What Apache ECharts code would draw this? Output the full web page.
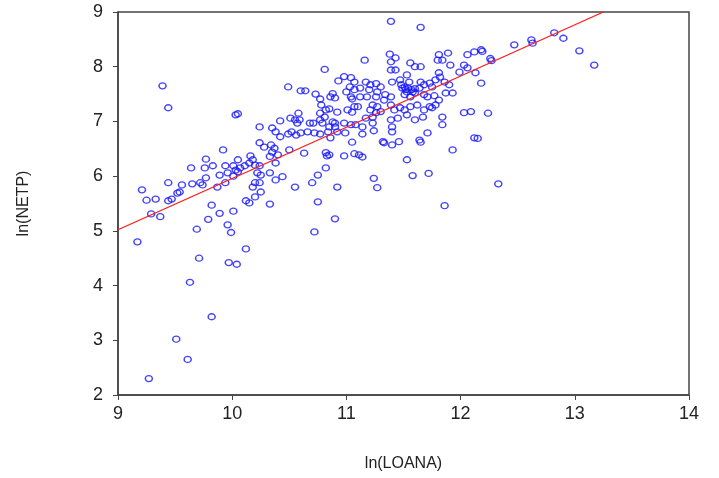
<!DOCTYPE html>
<html>
<head>
<meta charset="utf-8">
<script src="https://cdn.jsdelivr.net/npm/echarts@6/dist/echarts.min.js"></script>
<style>
  html, body { margin: 0; padding: 0; background: #fff; }
  #chart { width: 719px; height: 478px; }
</style>
</head>
<body>
<div id="chart"></div>
<script>
// ln(LOANA) vs ln(NETP)
var lnLoana = [
  9.27, 9.61, 9.51, 9.82, 9.63, 9.71, 9.97, 10.04, 10.12, 9.17,
  9.92, 9.77, 9.76, 9.83, 9.64, 9.94, 10.01, 10.03, 9.89, 9.96, 10.01, 9.77, 9.72, 9.74,
  9.44, 9.65, 9.56, 9.54, 9.52, 9.87, 9.94, 9.21, 9.25, 9.33, 9.44, 9.47, 9.82, 10.01,
  9.29, 9.37, 9.89, 9.79, 9.96, 9.99, 9.69,
  9.39, 9.44, 10.03,
  10.81, 10.49, 10.60, 10.64, 10.98, 10.93, 11.04, 11.03, 11.07, 11.00, 11.07, 11.04, 11.05,
  10.73, 10.77, 10.86, 10.90, 10.88, 10.78, 10.82, 10.85, 10.77, 10.81, 10.92, 11.01, 11.05, 11.07,
  10.58, 10.59, 10.57, 10.51, 10.55, 10.42, 10.35, 10.24, 10.68, 10.71, 10.77, 10.79, 10.88, 10.90,
  10.85, 10.90, 10.98, 11.04, 11.08, 10.05,
  10.38, 10.42, 10.49, 10.52, 10.56, 10.60, 10.66, 10.72, 10.77, 10.84, 10.86, 10.92, 10.99, 11.05,
  10.24, 10.28, 10.34, 10.37, 10.35, 10.40, 10.33, 10.16, 10.18, 10.15, 10.20, 10.11, 10.07,
  10.05, 10.05, 10.24, 10.22, 10.25, 10.38, 10.50, 10.63, 10.82, 10.85, 10.83, 10.98, 11.07,
  10.82, 10.75, 10.70, 10.33, 10.38, 10.44, 10.20, 10.24, 10.18, 10.55, 10.92, 10.25, 10.20,
  10.12, 10.15, 10.33, 10.75, 10.90, 10.72,
  11.39, 11.65, 11.16, 11.38, 11.43, 11.39, 11.56, 11.65, 11.60, 11.39, 11.43, 11.53,
  11.81, 11.89, 11.80, 11.84, 11.91, 12.06, 12.12, 12.03, 11.99, 12.06, 12.13,
  11.81, 11.82, 11.78, 11.86, 11.90, 11.47, 11.48, 11.40, 11.55, 11.65, 11.68, 11.73, 11.64, 11.75,
  11.49, 11.52, 11.54, 11.57, 11.60, 11.53, 11.58, 11.51,
  11.17, 11.21, 11.26, 11.30, 11.20, 11.27, 11.12,
  11.12, 11.18, 11.26, 11.33, 11.39, 11.34,
  11.51, 11.56, 11.60, 11.68, 11.71, 11.77, 11.81, 11.87, 11.93,
  11.10, 11.23, 11.27, 11.21, 11.26, 11.30, 11.23, 11.17,
  11.39, 11.47, 11.42, 11.51, 11.56, 11.62, 11.68, 11.73, 11.78, 11.75,
  11.45, 11.39, 11.67, 11.53, 11.60, 11.84, 12.09, 12.03, 11.23, 11.40, 11.84, 11.14,
  11.14, 11.24, 11.40, 11.71, 12.12, 11.32, 11.33, 11.40, 11.46, 11.64, 11.65, 11.11, 11.14,
  11.93, 11.53, 11.24, 11.58, 11.72, 11.27, 11.86,
  12.82, 12.90, 12.62, 12.63, 12.47, 13.04, 12.18, 12.19, 12.26, 12.27, 13.17, 12.18, 12.24,
  12.15, 12.33
];
var lnNetp = [
  2.30, 2.65, 3.02, 3.43, 4.06, 4.50, 4.42, 4.39, 4.67, 4.80,
  6.48, 6.31, 6.15, 6.19, 6.15, 6.19, 6.19, 6.11, 6.02, 6.06, 6.00, 5.97, 5.88, 5.84,
  5.88, 5.86, 5.84, 5.71, 5.69, 5.80, 5.88, 5.75, 5.56, 5.58, 5.55, 5.58, 5.47, 5.36,
  5.31, 5.26, 5.32, 5.21, 5.11, 4.97, 5.03,
  7.65, 7.25, 7.12,
  7.95, 7.63, 7.56, 7.56, 7.82, 7.74, 7.80, 7.63, 7.72, 7.54, 7.58, 7.45, 7.41,
  7.50, 7.41, 7.45, 7.43, 7.51, 7.30, 7.21, 7.23, 7.15, 7.08, 7.17, 7.21, 7.17, 7.27,
  7.15, 7.03, 6.97, 7.06, 7.03, 7.01, 6.88, 6.90, 6.97, 6.97, 7.03, 6.97, 6.99, 6.97,
  6.90, 6.90, 6.97, 6.94, 6.94, 7.14,
  6.81, 6.72, 6.77, 6.81, 6.75, 6.79, 6.81, 6.79, 6.77, 6.81, 6.70, 6.81, 6.79, 6.62,
  6.61, 6.53, 6.57, 6.51, 6.44, 6.39, 6.36, 6.37, 6.30, 6.24, 6.20, 6.19, 6.15,
  6.30, 6.08, 6.19, 6.06, 6.02, 6.24, 6.48, 6.42, 6.43, 6.39, 6.37, 6.37, 6.41,
  6.15, 6.02, 5.88, 6.06, 5.93, 5.99, 5.88, 5.88, 5.80, 5.80, 5.80, 5.71, 5.62,
  5.55, 5.51, 5.49, 5.53, 5.22, 4.98,
  8.83, 8.72, 8.12, 8.23, 8.16, 8.09, 8.07, 8.00, 8.00, 7.94, 7.94, 7.85,
  8.22, 8.25, 8.12, 8.12, 8.03, 8.22, 8.27, 8.03, 7.90, 7.98, 7.89,
  7.89, 7.81, 7.76, 7.72, 7.67, 7.76, 7.67, 7.72, 7.72, 7.72, 7.67, 7.70, 7.61, 7.63,
  7.61, 7.58, 7.61, 7.58, 7.60, 7.54, 7.54, 7.63,
  7.72, 7.67, 7.69, 7.63, 7.58, 7.54, 7.61,
  7.45, 7.45, 7.45, 7.39, 7.45, 7.49,
  7.49, 7.45, 7.52, 7.49, 7.45, 7.47, 7.39, 7.52, 7.52,
  7.27, 7.30, 7.27, 7.21, 7.16, 7.18, 7.08, 7.06,
  7.30, 7.25, 7.21, 7.21, 7.27, 7.30, 7.21, 7.27, 7.30, 7.25,
  7.06, 7.03, 7.08, 7.12, 7.03, 7.08, 7.18, 7.16, 6.97, 6.90, 6.94, 6.90,
  6.77, 6.83, 6.81, 6.79, 6.70, 6.63, 6.61, 6.57, 6.63, 6.66, 6.62, 6.39, 6.35,
  6.48, 6.30, 5.96, 6.01, 6.05, 5.79, 5.46,
  8.62, 8.52, 8.49, 8.43, 8.40, 8.29, 8.31, 8.28, 8.15, 8.11, 8.03, 7.70, 7.15,
  6.69, 5.86
];
// fitted line, ends where it leaves the plot
var fitX = [9, 13.25];
var fitY = [5.02, 9.0];

var xTicks = [9, 10, 11, 12, 13, 14];
var yTicks = [2, 3, 4, 5, 6, 7, 8, 9];

var points = lnLoana.map(function (x, i) { return [x, lnNetp[i]]; });
var fitLine = fitX.map(function (x, i) { return [x, fitY[i]]; });

var chart = echarts.init(document.getElementById('chart'));
var textStyle = { color: '#222', fontFamily: 'Liberation Sans, Arial, sans-serif', fontSize: 18 };

chart.setOption({
  animation: false,
  backgroundColor: '#fff',
  grid: {
    left: 118, right: 30, top: 12, bottom: 83,
    show: true, borderColor: '#444', borderWidth: 1.5, backgroundColor: '#fff'
  },
  xAxis: {
    type: 'value',
    min: xTicks[0], max: xTicks[xTicks.length - 1], interval: 1,
    name: 'ln(LOANA)', nameLocation: 'middle', nameGap: 61,
    nameTextStyle: { color: '#222', fontFamily: 'Liberation Sans, Arial, sans-serif', fontSize: 16 },
    axisLine: { show: true, lineStyle: { color: '#444', width: 1.5 } },
    axisTick: { show: true, length: 5, lineStyle: { color: '#444' } },
    axisLabel: Object.assign({ margin: 10 }, textStyle),
    splitLine: { show: false }
  },
  yAxis: {
    type: 'value',
    min: yTicks[0], max: yTicks[yTicks.length - 1], interval: 1,
    name: 'ln(NETP)', nameLocation: 'middle', nameGap: 86,
    nameTextStyle: { color: '#222', fontFamily: 'Liberation Sans, Arial, sans-serif', fontSize: 16 },
    axisLine: { show: true, lineStyle: { color: '#444', width: 1.5 } },
    axisTick: { show: true, length: 5, lineStyle: { color: '#444' } },
    axisLabel: Object.assign({ margin: 15 }, textStyle),
    splitLine: { show: false }
  },
  series: [
    {
      type: 'scatter',
      data: points,
      symbol: 'circle',
      symbolSize: [7, 6],
      itemStyle: { color: 'rgba(255,255,255,0)', borderColor: '#1414ff', borderWidth: 1.4 },
      z: 2
    },
    {
      type: 'line',
      data: fitLine,
      showSymbol: false,
      clip: true,
      lineStyle: { color: '#ff1a1a', width: 1.3 },
      z: 3
    }
  ]
});
</script>
</body>
</html>
